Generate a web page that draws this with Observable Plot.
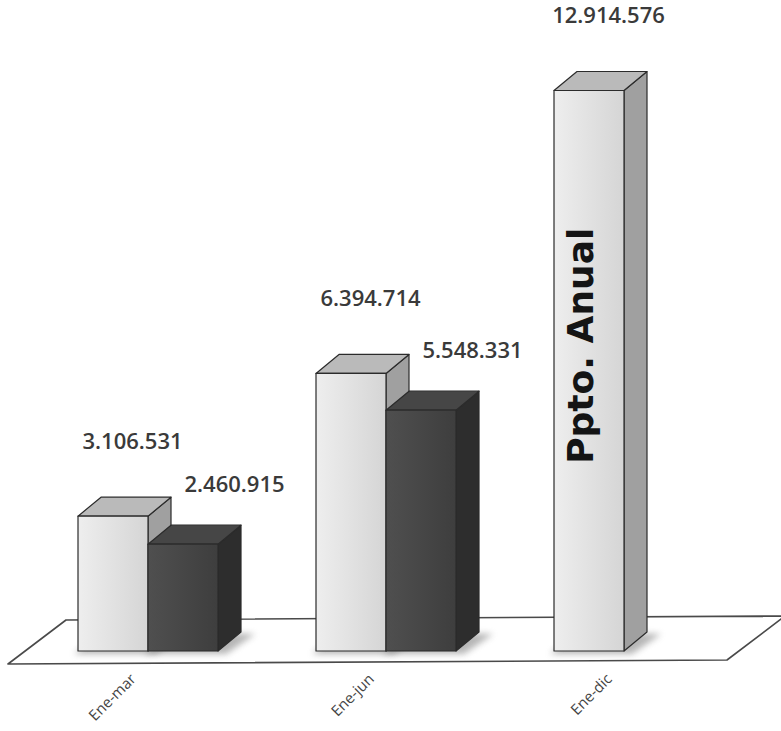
<!DOCTYPE html>
<html lang="es">
<head>
<meta charset="utf-8">
<script src="https://cdn.jsdelivr.net/npm/d3@7"></script>
<script src="https://cdn.jsdelivr.net/npm/@observablehq/plot@0.6"></script>
<style>
  html, body { margin: 0; padding: 0; background: #ffffff; }
  #grafico svg { display: block; }
</style>
</head>
<body>
<div id="grafico"></div>
<script>
// Datos: presupuesto acumulado y ejecución por periodo
const categorias = ["Ene-mar", "Ene-jun", "Ene-dic"];
const series = ["Presupuesto", "Ejecutado"];
const presupuesto = [3106531, 6394714, 12914576];
const ejecutado = [2460915, 5548331, null];
const rotuloAnual = "Ppto. Anual";

const filas = [];
categorias.forEach((cat, i) => {
  filas.push({cat, serie: series[0], valor: presupuesto[i], rotulo: i === categorias.length - 1 ? rotuloAnual : null});
  if (ejecutado[i] != null) filas.push({cat, serie: series[1], valor: ejecutado[i], rotulo: null});
});

const formato = d3.formatLocale({decimal: ",", thousands: ".", grouping: [3], currency: ["$", ""]}).format(",d");

// Aspecto de las caras de cada columna 3D
const caras = {
  Presupuesto: {frente: ["#eeeeee", "#d5d5d5"], tapa: "#bababa", lado: "#a0a0a0"},
  Ejecutado:   {frente: ["#4f4f4f", "#3e3e3e"], tapa: "#464646", lado: "#2d2d2d"}
};
const prof = {dx: 23, dy: -19};        // profundidad de las columnas
const profPiso = {dx: 58, dy: -44};    // profundidad del piso
const borde = "#2b2b2b";

// Piso en perspectiva bajo las columnas
function piso(index, scales, values, dim) {
  const y0 = scales.y(0) + 13;
  const xa = dim.marginLeft, xb = dim.width - dim.marginRight;
  const g = d3.create("svg:g");
  g.append("path")
    .attr("d", `M${xa},${y0}L${xb},${y0 - 4}L${xb + profPiso.dx},${y0 - 4 + profPiso.dy}L${xa + profPiso.dx},${y0 + profPiso.dy}Z`)
    .attr("fill", "#ffffff")
    .attr("stroke", "#4a4a4a")
    .attr("stroke-width", 1.6)
    .attr("stroke-linejoin", "round");
  return g.node();
}

// Columnas 3D: frente, lado y tapa a partir de las escalas de Plot
function cubos(index, scales, values, dim) {
  const bw = scales.x.bandwidth();
  const hueco = d3.scaleBand().domain(series).range([0, bw]);
  const w = hueco.bandwidth();
  const y0 = scales.y(0);
  const g = d3.create("svg:g");
  const defs = g.append("defs");
  series.forEach((s, k) => {
    const gr = defs.append("linearGradient").attr("id", "frente-" + k).attr("x1", 0).attr("x2", 1).attr("y1", 0).attr("y2", 0);
    gr.append("stop").attr("offset", "0%").attr("stop-color", caras[s].frente[0]);
    gr.append("stop").attr("offset", "100%").attr("stop-color", caras[s].frente[1]);
  });
  defs.append("filter").attr("id", "sombra").attr("x", "-50%").attr("y", "-50%").attr("width", "200%").attr("height", "200%")
    .append("feGaussianBlur").attr("stdDeviation", 3);

  // sombras sobre el piso
  for (const i of index) {
    const f = filas[i];
    const x0 = scales.x(f.cat) + hueco(f.serie);
    g.append("path")
      .attr("d", `M${x0 - 4},${y0 + 3}L${x0 + w + 8},${y0 + 3}L${x0 + w + prof.dx + 14},${y0 + prof.dy + 2}L${x0 + prof.dx},${y0 + prof.dy}Z`)
      .attr("fill", "#7a7a7a").attr("opacity", 0.55).attr("filter", "url(#sombra)");
  }

  for (const i of index) {
    const f = filas[i];
    const k = series.indexOf(f.serie);
    const c = caras[f.serie];
    const x0 = scales.x(f.cat) + hueco(f.serie);
    const x1 = x0 + w;
    const yt = scales.y(f.valor);
    const cara = g.append("g").attr("stroke", borde).attr("stroke-width", 1.2).attr("stroke-linejoin", "round");
    cara.append("path")
      .attr("d", `M${x1},${y0}L${x1 + prof.dx},${y0 + prof.dy}L${x1 + prof.dx},${yt + prof.dy}L${x1},${yt}Z`)
      .attr("fill", c.lado);
    cara.append("path")
      .attr("d", `M${x0},${yt}L${x0 + prof.dx},${yt + prof.dy}L${x1 + prof.dx},${yt + prof.dy}L${x1},${yt}Z`)
      .attr("fill", c.tapa);
    cara.append("rect")
      .attr("x", x0).attr("y", yt).attr("width", w).attr("height", y0 - yt)
      .attr("fill", `url(#frente-${k})`);
    if (f.rotulo) {
      g.append("text")
        .attr("transform", `translate(${x0 + w / 2 + 4},${(y0 + yt) / 2 - 25}) rotate(-90)`)
        .attr("text-anchor", "middle")
        .attr("font-family", "DejaVu Sans")
        .attr("font-weight", "bold")
        .attr("font-size", 36)
        .attr("fill", "#141414")
        .text(f.rotulo);
    }
  }
  return g.node();
}

const ejeX = typeof Plot.axisX === "function"
  ? Plot.axisX({tickSize: 0, tickPadding: 25, tickRotate: -45, dx: -15, fontSize: 15, fill: "#444444", label: null})
  : null;

const grafico = Plot.plot({
  width: 781,
  height: 731,
  marginLeft: 8,
  marginRight: 54,
  marginTop: 0,
  marginBottom: 80,
  style: {background: "#ffffff", fontFamily: "'Open Sans', sans-serif", fontSize: "15px", color: "#444444"},
  x: {domain: categorias, paddingInner: 0.413, paddingOuter: 0.2138, align: 0.676, label: null,
      ...(ejeX ? {axis: null} : {tickSize: 0, tickPadding: 25, tickRotate: -45})},
  y: {domain: [0, 15000000], axis: null},
  marks: [
    Plot.ruleY([0], {render: piso}),
    Plot.barY(filas, {x: "cat", y1: 0, y2: "valor", render: cubos}),
    Plot.text(filas.filter(d => d.serie === series[0]), {
      x: "cat", y: "valor", text: d => formato(d.valor),
      dx: -16, dy: -75, fontSize: 22, fontWeight: 600, fill: "#3a3a3a"
    }),
    Plot.text(filas.filter(d => d.serie === series[1]), {
      x: "cat", y: "valor", text: d => formato(d.valor),
      dx: 86, dy: -60, fontSize: 22, fontWeight: 600, fill: "#3a3a3a"
    }),
    ...(ejeX ? [ejeX] : [])
  ]
});

document.getElementById("grafico").append(grafico);
</script>
</body>
</html>
